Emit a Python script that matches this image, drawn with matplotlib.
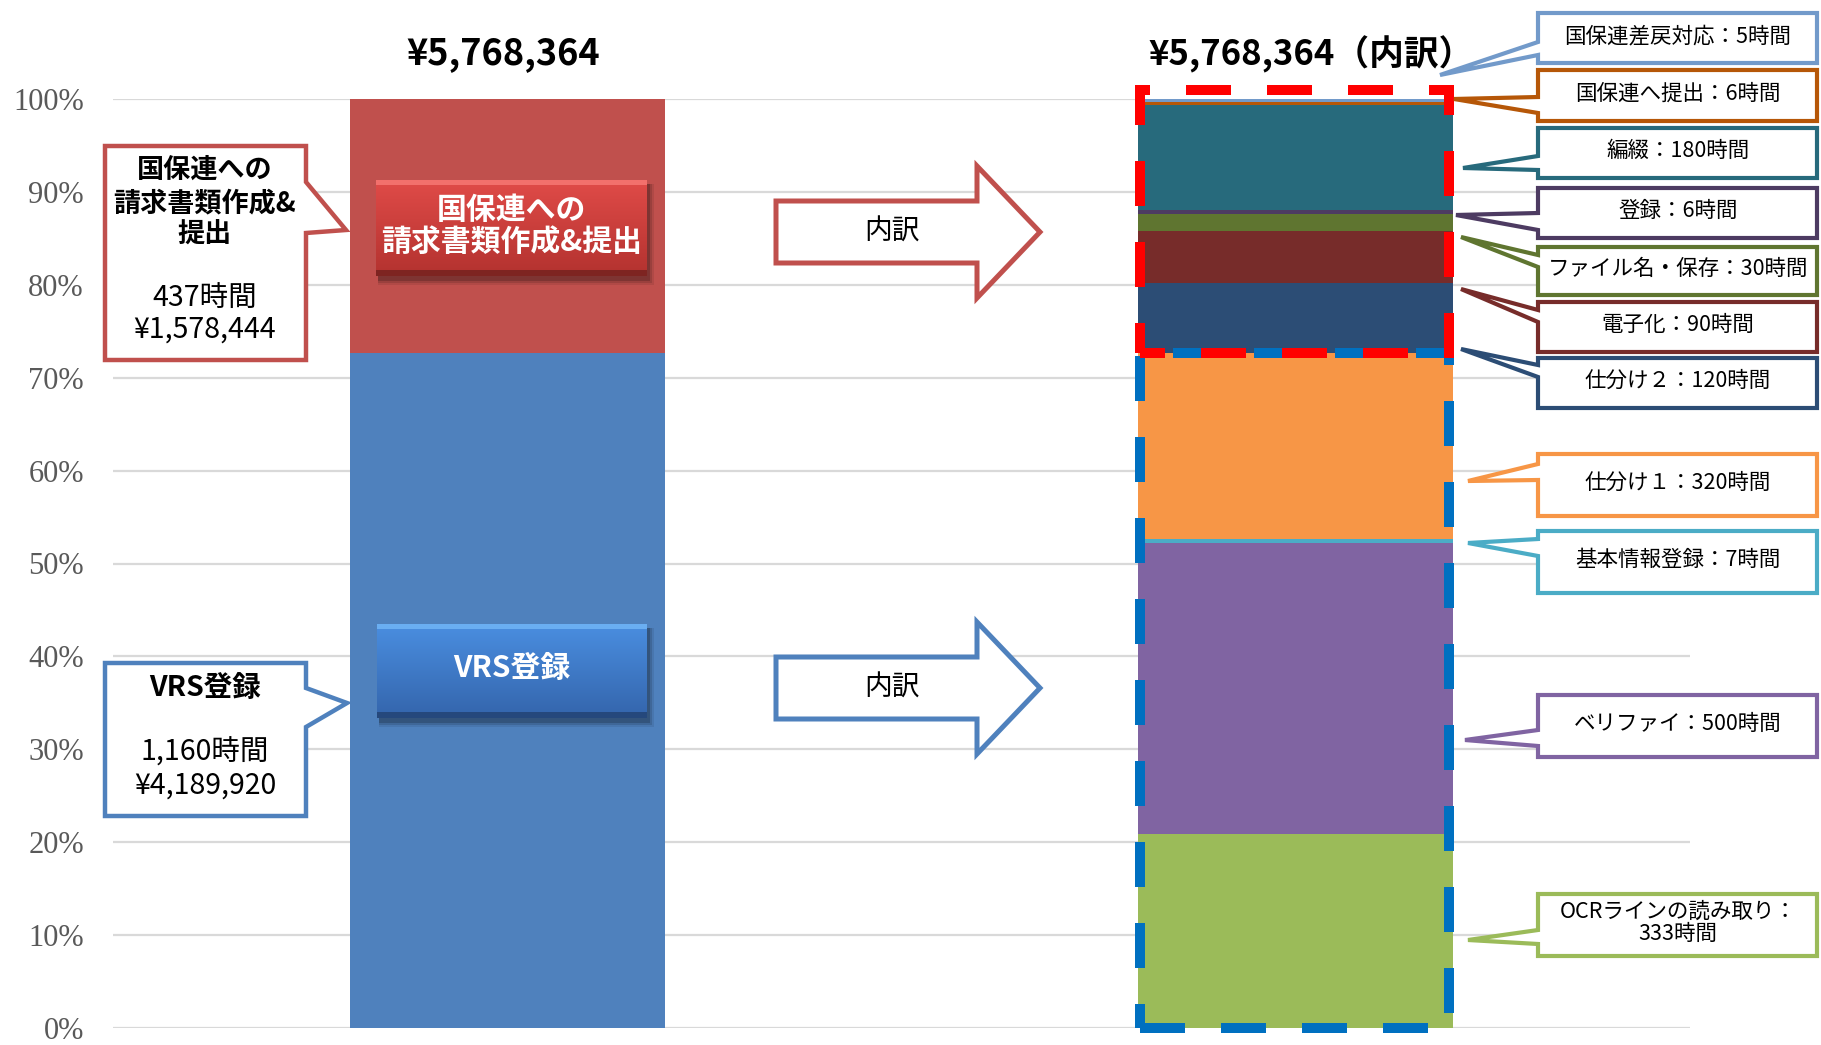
import numpy as np
import matplotlib
matplotlib.use('Agg')
import matplotlib.pyplot as plt
from matplotlib.patches import Polygon, Rectangle
from matplotlib.colors import to_rgb

plt.rcParams['font.family'] = ['Noto Sans CJK JP', 'DejaVu Sans']

W, H = 1821, 1045

# ---- data ----
total_cost = 5768364
left_names = ['VRS登録', '国保連への請求書類作成&提出']
left_hours = [1160, 437]
left_costs = [4189920, 1578444]
left_colors = ['#4F81BD', '#C0504D']

right_names = ['OCRラインの読み取り', 'ベリファイ', '基本情報登録', '仕分け１', '仕分け２',
               '電子化', 'ファイル名・保存', '登録', '編綴', '国保連へ提出', '国保連差戻対応']
right_hours = [333, 500, 7, 320, 120, 90, 30, 6, 180, 6, 5]
right_colors = ['#9BBB59', '#8064A2', '#4BACC6', '#F79646', '#2C4D75',
                '#772C2A', '#5F7530', '#4D3B62', '#276A7C', '#B65708', '#729ACA']

yticks = np.arange(0, 1.01, 0.1)

# callout layout for the right labels (bottom to top, same order as right_names)
# box top, box bottom, joint 1, joint 2, tip x, tip y  (pixels)
right_callouts = [
    (894, 956, 930, 944, 1468, 940),
    (695, 757, 730, 746, 1465, 740),
    (531, 593, 539, 556, 1468, 543),
    (454, 516, 464, 480, 1468, 481),
    (358, 408, 365, 377, 1461, 349),
    (302, 352, 310, 322, 1461, 289),
    (247, 295, 255, 267, 1461, 237),
    (188, 238, 213, 230, 1456, 215),
    (128, 178, 156, 170, 1463, 168),
    (70, 121, 97, 113, 1454, 99),
    (13, 63, 42, 55, 1440, 75),
]

fig = plt.figure(figsize=(W / 100, H / 100), dpi=100)
ax = fig.add_axes([113 / W, 1 - 1028 / H, (1690 - 113) / W, (1028 - 99) / H])

# left bar
total_h = sum(left_hours)
bottom = 0
for h, c in zip(left_hours, left_colors):
    ax.bar(0, h / total_h, bottom=bottom, width=0.4, color=c, zorder=2)
    bottom += h / total_h
vrs_frac = left_hours[0] / total_h

# right bar
total_r = sum(right_hours)
bottom = 0
for h, c in zip(right_hours, right_colors):
    ax.bar(1, h / total_r, bottom=bottom, width=0.4, color=c, zorder=2)
    bottom += h / total_r

ax.set_xlim(-0.5, 1.5)
ax.set_ylim(0, 1)
ax.set_yticks(yticks)
ax.set_yticklabels(['{:.0%}'.format(v) for v in yticks], fontfamily='Liberation Serif',
                   fontsize=22, color='#595959')
ax.tick_params(axis='y', length=0, pad=21)
ax.set_xticks([])
ax.yaxis.grid(True, color='#D9D9D9', lw=1.6)
ax.set_axisbelow(True)
for s in ax.spines.values():
    s.set_visible(False)

# dashed group frames on the right bar
ax.add_patch(Rectangle((0.802, 0), 0.392, vrs_frac, fill=False, ec='#0070C0', lw=7.2,
                       ls=(0, (4.5, 3.6)), zorder=5, clip_on=False))
ax.add_patch(Rectangle((0.802, vrs_frac), 0.392, 1.0097 - vrs_frac, fill=False, ec='#FF0000',
                       lw=7.2, ls=(2.0, (4.5, 3.6)), zorder=6, clip_on=False))

# overlay in pixel coords for the annotations
ov = fig.add_axes([0, 0, 1, 1], zorder=3)
ov.patch.set_visible(False)
ov.axis('off')


def fmt_yen(v):
    return '¥{:,}'.format(v)


# titles
ov.text(503, 54, fmt_yen(total_cost), ha='center', va='center', fontsize=26, fontweight='bold')
ov.text(1311, 54, fmt_yen(total_cost) + '（内訳）', ha='center', va='center', fontsize=25,
        fontweight='bold')


def callout(x0, y0, x1, y1, j1, j2, tx, ty, color, lw, side='left'):
    if side == 'left':
        pts = [(x0, y0), (x1, y0), (x1, y1), (x0, y1), (x0, j2), (tx, ty), (x0, j1)]
    else:
        pts = [(x0, y0), (x1, y0), (x1, j1), (tx, ty), (x1, j2), (x1, y1), (x0, y1)]
    ov.add_patch(Polygon(pts, closed=True, fc='white', ec=color, lw=lw, joinstyle='miter', zorder=4))


# left callouts
callout(105, 146, 306, 360, 182, 233, 346, 230, left_colors[1], 3.2, side='right')
for txt, y in zip(['国保連への', '請求書類作成&', '提出'], [170, 203, 235]):
    ov.text(205, y, txt, ha='center', va='center', fontsize=19.5, fontweight='bold', zorder=5)
ov.text(205, 298, '{}時間'.format(left_hours[1]), ha='center', va='center', fontsize=20.5, zorder=5)
ov.text(205, 330, fmt_yen(left_costs[1]), ha='center', va='center', fontsize=20.5, zorder=5)

callout(105, 663, 306, 816, 688, 727, 347, 703, left_colors[0], 3.2, side='right')
ov.text(205, 689, left_names[0], ha='center', va='center', fontsize=20.5, fontweight='bold', zorder=5)
ov.text(205, 753, '{:,}時間'.format(left_hours[0]), ha='center', va='center', fontsize=20.5, zorder=5)
ov.text(205, 786, fmt_yen(left_costs[0]), ha='center', va='center', fontsize=20.5, zorder=5)


# beveled labels on the left bar
def bevel_box(x0, y0, x1, y1, top, bot, hi, lo, text, ty):
    for k, a in [(7, 0.08), (5, 0.12), (3, 0.18)]:
        ov.add_patch(Rectangle((x0 + 2, y0 + 4), x1 - x0 + k - 2, y1 - y0 + k - 2, fc='black',
                               ec='none', alpha=a, zorder=3))
    n = 120
    t = np.linspace(0, 1, n)[:, None, None]
    img = np.array(to_rgb(top))[None, None, :] * (1 - t) + np.array(to_rgb(bot))[None, None, :] * t
    ov.imshow(img, extent=(x0, x1, y1, y0), aspect='auto', interpolation='bilinear', zorder=4)
    ov.add_patch(Rectangle((x0, y0), x1 - x0, 5, fc=hi, ec='none', zorder=4.5))
    ov.add_patch(Rectangle((x0, y1 - 6), x1 - x0, 6, fc=lo, ec='none', zorder=4.5))
    ov.text((x0 + x1) / 2, ty, text, ha='center', va='center', color='white', fontsize=21.5,
            fontweight='bold', zorder=5, linespacing=1.1)


bevel_box(376, 180, 647, 276, '#E04B48', '#B3322F', '#F2706C', '#7E2421',
          '国保連への\n請求書類作成&提出', 226)
bevel_box(377, 624, 647, 718, '#4A8EE0', '#3465AC', '#6AAEF2', '#25487C',
          left_names[0], 668)


# outlined arrows
def arrow(yc, color):
    pts = [(776, yc - 31), (977, yc - 31), (977, yc - 66), (1040, yc), (977, yc + 66),
           (977, yc + 31), (776, yc + 31)]
    ov.add_patch(Polygon(pts, closed=True, fc='white', ec=color, lw=3.6, joinstyle='miter', zorder=4))
    ov.text(892, yc, '内訳', ha='center', va='center', fontsize=20, zorder=5)


arrow(232, left_colors[1])
arrow(688, left_colors[0])

# right callouts
for name, h, c, (bt, bb, j1, j2, tx, ty) in zip(right_names, right_hours, right_colors, right_callouts):
    callout(1538, bt, 1817, bb, j1, j2, tx, ty, c, 3.0, side='left')
    if len(name) > 10:
        label = '{}：\n{}時間'.format(name, h)
    else:
        label = '{}：{}時間'.format(name, h)
    ov.text(1678, (bt + bb) / 2 - 2, label, ha='center', va='center', fontsize=15.5, zorder=5,
            linespacing=1.05)

ov.set_xlim(0, W)
ov.set_ylim(H, 0)

fig.savefig('out.png', dpi=100, facecolor='white')
